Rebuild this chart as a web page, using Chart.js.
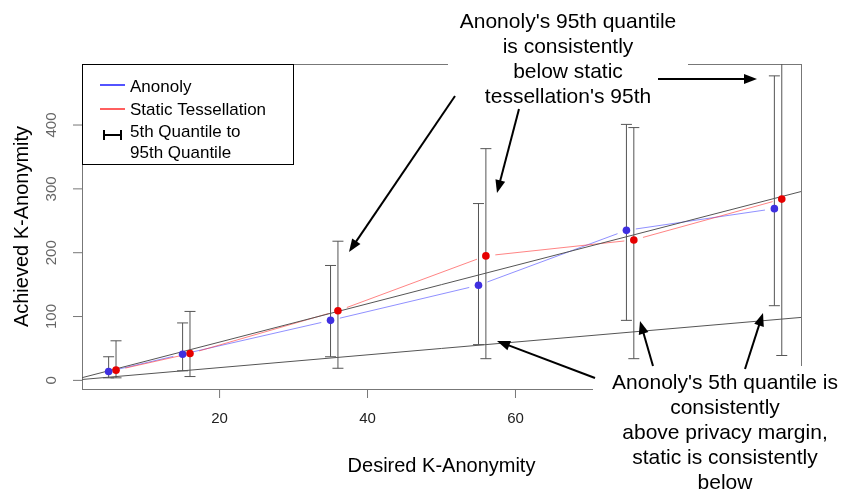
<!DOCTYPE html>
<html>
<head>
<meta charset="utf-8">
<script src="https://cdn.jsdelivr.net/npm/chart.js@4.4.0/dist/chart.umd.min.js"></script>
<style>
  html, body { margin: 0; padding: 0; background: #fff; }
  #wrap { width: 843px; height: 496px; }
</style>
</head>
<body>
<div id="wrap"><canvas id="kChart" width="843" height="496"></canvas></div>
<script>
// desired k for each run (static runs nudged +1 so the bars don't overlap)
const anonolyK = [5, 15, 35, 55, 75, 95];
const staticK = [6, 16, 36, 56, 76, 96];

// achieved k: mean plus 5th / 95th quantile
const anonolyMean = [14, 41, 94, 149, 235, 269];
const anonolyP5 = [4, 15, 37, 56, 94, 117];
const anonolyP95 = [37, 90, 180, 277, 401, 477];

const staticMean = [16, 42, 109, 195, 220, 284];
const staticP5 = [4, 6, 19, 34, 34, 39];
const staticP95 = [62, 108, 218, 363, 396, 520];

// privacy margin lines y = k and y = 3k
const marginSlopes = [1, 3];

const xTicks = [20, 40, 60, 80];
const yTicks = [0, 100, 200, 300, 400];

const legendLabels = ['Anonoly', 'Static Tessellation', '5th Quantile to', '95th Quantile'];

const noteTop = ["Anonoly's 95th quantile", 'is consistently', 'below static', "tessellation's 95th"];
const noteBottom = ["Anonoly's 5th quantile is", 'consistently', 'above privacy margin,', 'static is consistently', 'below'];

const xMin = 1.4, xMax = 98.6;
const yMin = -13.5, yMax = 495.6;

const FONT = '"Liberation Sans", Arial, Helvetica, sans-serif';
const BLUE_PT = '#3f2fe0';
const RED_PT = '#e60000';
const BLUE_LN = 'rgba(70, 70, 255, 0.6)';
const RED_LN = 'rgba(255, 50, 50, 0.6)';

function toPoints(ks, vals) {
  return ks.map((k, i) => ({ x: k, y: vals[i] }));
}

// axes, box, tick labels and titles in the R base-graphics look
const rFrame = {
  id: 'rFrame',
  beforeDatasetsDraw(chart) {
    const { ctx, chartArea: a, scales: { x, y } } = chart;
    ctx.save();
    ctx.strokeStyle = '#777';
    ctx.lineWidth = 1;
    ctx.strokeRect(a.left + 0.5, a.top + 0.5, a.right - a.left, a.bottom - a.top);

    ctx.font = '15px ' + FONT;
    ctx.textAlign = 'center';
    ctx.textBaseline = 'middle';
    xTicks.forEach(v => {
      const px = x.getPixelForValue(v);
      ctx.beginPath();
      ctx.moveTo(px, a.bottom);
      ctx.lineTo(px, a.bottom + 9);
      ctx.stroke();
      ctx.fillStyle = '#222';
      ctx.fillText(String(v), px, a.bottom + 30);
    });
    yTicks.forEach(v => {
      const py = y.getPixelForValue(v);
      ctx.beginPath();
      ctx.moveTo(a.left - 9, py);
      ctx.lineTo(a.left, py);
      ctx.stroke();
      ctx.save();
      ctx.translate(a.left - 30, py);
      ctx.rotate(-Math.PI / 2);
      ctx.fillStyle = '#666';
      ctx.fillText(String(v), 0, 0);
      ctx.restore();
    });

    ctx.fillStyle = '#000';
    ctx.font = '20px ' + FONT;
    ctx.fillText('Desired K-Anonymity', (a.left + a.right) / 2, 466);
    ctx.save();
    ctx.translate(22, (a.top + a.bottom) / 2);
    ctx.rotate(-Math.PI / 2);
    ctx.fillText('Achieved K-Anonymity', 0, 0);
    ctx.restore();

    // quantile bars and the type="b" style connecting lines
    ctx.beginPath();
    ctx.rect(a.left, a.top, a.right - a.left, a.bottom - a.top);
    ctx.clip();

    const bars = (ks, lo, hi) => {
      ctx.strokeStyle = '#555';
      ctx.lineWidth = 1;
      ks.forEach((k, i) => {
        const px = x.getPixelForValue(k);
        const y0 = y.getPixelForValue(lo[i]);
        const y1 = y.getPixelForValue(hi[i]);
        ctx.beginPath();
        ctx.moveTo(px, y0); ctx.lineTo(px, y1);
        ctx.moveTo(px - 5.5, y0); ctx.lineTo(px + 5.5, y0);
        ctx.moveTo(px - 5.5, y1); ctx.lineTo(px + 5.5, y1);
        ctx.stroke();
      });
    };
    bars(anonolyK, anonolyP5, anonolyP95);
    bars(staticK, staticP5, staticP95);

    const gapLine = (ks, vals, color) => {
      const gap = 9.5;
      ctx.strokeStyle = color;
      ctx.lineWidth = 1;
      for (let i = 0; i < ks.length - 1; i++) {
        const x0 = x.getPixelForValue(ks[i]), y0 = y.getPixelForValue(vals[i]);
        const x1 = x.getPixelForValue(ks[i + 1]), y1 = y.getPixelForValue(vals[i + 1]);
        const len = Math.hypot(x1 - x0, y1 - y0);
        if (len <= 2 * gap) continue;
        const ux = (x1 - x0) / len, uy = (y1 - y0) / len;
        ctx.beginPath();
        ctx.moveTo(x0 + ux * gap, y0 + uy * gap);
        ctx.lineTo(x1 - ux * gap, y1 - uy * gap);
        ctx.stroke();
      }
    };
    gapLine(anonolyK, anonolyMean, BLUE_LN);
    gapLine(staticK, staticMean, RED_LN);
    ctx.restore();
  }
};

function arrow(ctx, x0, y0, x1, y1) {
  const ang = Math.atan2(y1 - y0, x1 - x0);
  const hl = 13, hw = 5;
  ctx.beginPath();
  ctx.moveTo(x0, y0);
  ctx.lineTo(x1 - Math.cos(ang) * hl * 0.8, y1 - Math.sin(ang) * hl * 0.8);
  ctx.stroke();
  ctx.beginPath();
  ctx.moveTo(x1, y1);
  ctx.lineTo(x1 - Math.cos(ang) * hl + Math.sin(ang) * hw, y1 - Math.sin(ang) * hl - Math.cos(ang) * hw);
  ctx.lineTo(x1 - Math.cos(ang) * hl - Math.sin(ang) * hw, y1 - Math.sin(ang) * hl + Math.cos(ang) * hw);
  ctx.closePath();
  ctx.fill();
}

// legend box plus the two callouts pasted over the plot
const overlays = {
  id: 'overlays',
  afterDraw(chart) {
    const { ctx, chartArea: a } = chart;
    ctx.save();

    // legend
    const lx = a.left, ly = a.top;
    ctx.fillStyle = '#fff';
    ctx.fillRect(lx, ly, 211, 100);
    ctx.strokeStyle = '#000';
    ctx.lineWidth = 1;
    ctx.strokeRect(lx + 0.5, ly + 0.5, 211, 100);
    ctx.lineWidth = 1.5;
    ctx.strokeStyle = '#1a1aff';
    ctx.beginPath(); ctx.moveTo(100, 85); ctx.lineTo(125, 85); ctx.stroke();
    ctx.strokeStyle = '#ff2a2a';
    ctx.beginPath(); ctx.moveTo(100, 109); ctx.lineTo(125, 109); ctx.stroke();
    ctx.strokeStyle = '#000';
    ctx.lineWidth = 2;
    ctx.beginPath();
    ctx.moveTo(104, 135); ctx.lineTo(121, 135);
    ctx.moveTo(104, 130); ctx.lineTo(104, 140);
    ctx.moveTo(121, 130); ctx.lineTo(121, 140);
    ctx.stroke();
    ctx.fillStyle = '#000';
    ctx.font = '17px ' + FONT;
    ctx.textAlign = 'left';
    ctx.textBaseline = 'middle';
    [87, 110, 132, 153].forEach((ty, i) => ctx.fillText(legendLabels[i], 130, ty));

    // callouts
    ctx.fillStyle = '#fff';
    ctx.fillRect(448, 0, 240, 104);
    ctx.fillRect(593, 366, 250, 130);
    ctx.fillStyle = '#000';
    ctx.font = '21px ' + FONT;
    ctx.textAlign = 'center';
    noteTop.forEach((t, i) => ctx.fillText(t, 568, 22 + i * 25));
    noteBottom.forEach((t, i) => ctx.fillText(t, 725, 383 + i * 25));

    ctx.strokeStyle = '#000';
    ctx.lineWidth = 2;
    arrow(ctx, 455, 96, 349, 252);
    arrow(ctx, 519, 109, 497, 193);
    arrow(ctx, 658, 79, 757, 79);
    arrow(ctx, 595, 378, 497, 341);
    arrow(ctx, 653, 366, 640, 321);
    arrow(ctx, 745, 369, 763, 313);
    ctx.restore();
  }
};

new Chart(document.getElementById('kChart'), {
  type: 'scatter',
  data: {
    datasets: [
      {
        label: 'Anonoly',
        data: toPoints(anonolyK, anonolyMean),
        backgroundColor: BLUE_PT,
        borderWidth: 0,
        pointRadius: 3.8
      },
      {
        label: 'Static Tessellation',
        data: toPoints(staticK, staticMean),
        backgroundColor: RED_PT,
        borderWidth: 0,
        pointRadius: 3.8
      },
      ...marginSlopes.map(s => ({
        type: 'line',
        label: 'margin ' + s + 'k',
        data: [{ x: xMin, y: s * xMin }, { x: xMax, y: s * xMax }],
        borderColor: '#555',
        borderWidth: 1,
        pointRadius: 0,
        order: 10
      }))
    ]
  },
  options: {
    responsive: false,
    animation: false,
    devicePixelRatio: 1,
    layout: { padding: { left: 82, top: 64, right: 42, bottom: 107 } },
    scales: {
      x: { type: 'linear', min: xMin, max: xMax, display: false },
      y: { type: 'linear', min: yMin, max: yMax, display: false }
    },
    plugins: {
      legend: { display: false },
      tooltip: { enabled: false }
    }
  },
  plugins: [rFrame, overlays]
});
</script>
</body>
</html>
